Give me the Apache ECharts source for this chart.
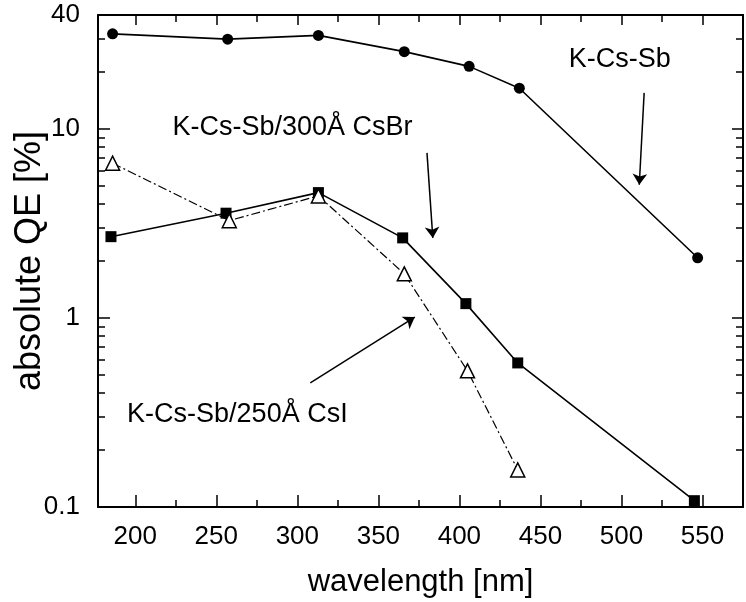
<!DOCTYPE html>
<html>
<head>
<meta charset="utf-8">
<style>
  html, body { margin: 0; padding: 0; background: #fff; }
  #main { width: 746px; height: 602px; }
</style>
<script src="https://cdn.jsdelivr.net/npm/echarts@6/dist/echarts.min.js"></script>
</head>
<body>
<div id="main"></div>
<script>
const FONT = 'Liberation Sans'

// wavelengths [nm] (Hg lines)
const WL_KCSSB = [186, 257, 313, 366, 406, 437, 547]
const WL_CSBR = [185, 256, 313, 365, 404, 436, 545]
const WL_CSI = [186, 258, 313, 366, 405, 436]

// absolute QE [%]
const QE_KCSSB = [31.8, 29.8, 31.2, 25.6, 21.4, 16.4, 2.08]
const QE_CSBR = [2.69, 3.58, 4.6, 2.65, 1.19, 0.578, 0.108]
const QE_CSI = [6.58, 3.27, 4.42, 1.71, 0.525, 0.157]

// axis ticks
const X_MAJOR = [200, 250, 300, 350, 400, 450, 500, 550]
const X_MINOR = [225, 275, 325, 375, 425, 475, 525]
const Y_LABELS = [0.1, 1, 10, 40]
const Y_MAJOR = [0.1, 1, 10]
const Y_MINOR = [0.2, 0.3, 0.4, 0.5, 0.6, 0.7, 0.8, 0.9, 2, 3, 4, 5, 6, 7, 8, 9, 20, 30]

// annotations (data coordinates)
const NOTE_TEXT = ['K-Cs-Sb', 'K-Cs-Sb/300Å CsBr', 'K-Cs-Sb/250Å CsI']
const NOTE_POS = [[499, 23.2], [297, 10.1], [263, 0.31]]
const ARROW_FROM = [[514, 15.5], [380, 7.46], [308, 0.453]]
const ARROW_TO = [[511, 5.06], [383.6, 2.65], [372.5, 1.01]]

function pairs(xs, ys) {
  return xs.map((x, i) => [x, ys[i]])
}

function xAxis(position, values, length, withLine, withLabel) {
  return {
    type: 'value',
    position,
    min: 177,
    max: 575,
    splitLine: { show: false },
    axisLine: { show: withLine, onZero: false, lineStyle: { color: '#000', width: 2 } },
    axisTick: { show: true, inside: true, length, customValues: values, lineStyle: { color: '#000', width: 1.5 } },
    axisLabel: withLabel
      ? { show: true, customValues: X_MAJOR, margin: 17, color: '#000', fontSize: 26, fontFamily: FONT }
      : { show: false },
  }
}

function yAxis(position, values, length, withLine, withLabel) {
  return {
    type: 'log',
    logBase: 10,
    position,
    min: 0.1,
    max: 40,
    splitLine: { show: false },
    axisLine: { show: withLine, onZero: false, lineStyle: { color: '#000', width: 2 } },
    axisTick: { show: true, inside: true, length, customValues: values, lineStyle: { color: '#000', width: 1.5 } },
    axisLabel: withLabel
      ? { show: true, customValues: Y_LABELS, margin: 18, color: '#000', fontSize: 26, fontFamily: FONT }
      : { show: false },
  }
}

function build() {
  const bottom = xAxis('bottom', X_MAJOR, 12, true, true)
  bottom.name = 'wavelength [nm]'
  bottom.nameLocation = 'middle'
  bottom.nameGap = 60
  bottom.nameTextStyle = { color: '#000', fontSize: 31, fontFamily: FONT }

  const left = yAxis('left', Y_MAJOR, 12, true, true)
  left.name = 'absolute QE [%]'
  left.nameLocation = 'middle'
  left.nameGap = 50
  left.nameMoveOverlap = false // title sits close to the tick labels, like the original
  left.nameTextStyle = { color: '#000', fontSize: 36, fontFamily: FONT }

  const xAxes = [
    bottom,
    xAxis('bottom', X_MINOR, 7, false, false),
    xAxis('top', X_MAJOR, 10, true, false),
    xAxis('top', X_MINOR, 7, false, false),
  ]
  const yAxes = [
    left,
    yAxis('left', Y_MINOR, 7, false, false),
    yAxis('right', Y_MAJOR, 11, true, false),
    yAxis('right', Y_MINOR, 7, false, false),
  ]

  const notes = NOTE_TEXT.map((text, i) => ({
    coord: NOTE_POS[i],
    label: { show: true, formatter: text },
  }))
  const arrows = ARROW_FROM.map((from, i) => [{ coord: from }, { coord: ARROW_TO[i] }])

  const series = [
    {
      name: 'K-Cs-Sb',
      type: 'line',
      data: pairs(WL_KCSSB, QE_KCSSB),
      symbol: 'circle',
      symbolSize: 11,
      showAllSymbol: true,
      itemStyle: { color: '#000' },
      lineStyle: { color: '#000', width: 1.6 },
      markPoint: {
        symbol: 'circle',
        symbolSize: 1,
        itemStyle: { color: 'rgba(0,0,0,0)' },
        label: { position: 'inside', color: '#000', fontSize: 27, fontFamily: FONT },
        data: notes,
      },
      markLine: {
        silent: true,
        symbol: ['none', 'arrow'],
        symbolSize: 11,
        label: { show: false },
        lineStyle: { color: '#000', width: 1.5, type: 'solid' },
        data: arrows,
      },
    },
    {
      name: 'K-Cs-Sb/300Å CsBr',
      type: 'line',
      data: pairs(WL_CSBR, QE_CSBR),
      symbol: 'rect',
      symbolSize: 11,
      showAllSymbol: true,
      itemStyle: { color: '#000' },
      lineStyle: { color: '#000', width: 1.6 },
    },
    {
      name: 'K-Cs-Sb/250Å CsI',
      type: 'line',
      data: pairs(WL_CSI, QE_CSI),
      symbol: 'triangle',
      symbolSize: 14,
      showAllSymbol: true,
      itemStyle: { color: '#fff', borderColor: '#000', borderWidth: 1.5 },
      lineStyle: { color: '#000', width: 1.2, type: [9, 3, 2, 3] },
    },
  ]

  return { xAxes, yAxes, series }
}

function render(chart, { xAxes, yAxes, series }) {
  chart.setOption({
    backgroundColor: '#fff',
    animation: false,
    // keep the plot box where it is, no auto shrinking for labels
    grid: { left: 98, right: 3, top: 15, bottom: 95, containLabel: false, outerBoundsMode: 'none' },
    xAxis: xAxes,
    yAxis: yAxes,
    series,
  })
}

function main() {
  const chart = echarts.init(document.getElementById('main'), null, { renderer: 'canvas' })
  render(chart, build())
}

window.onload = main
</script>
</body>
</html>
